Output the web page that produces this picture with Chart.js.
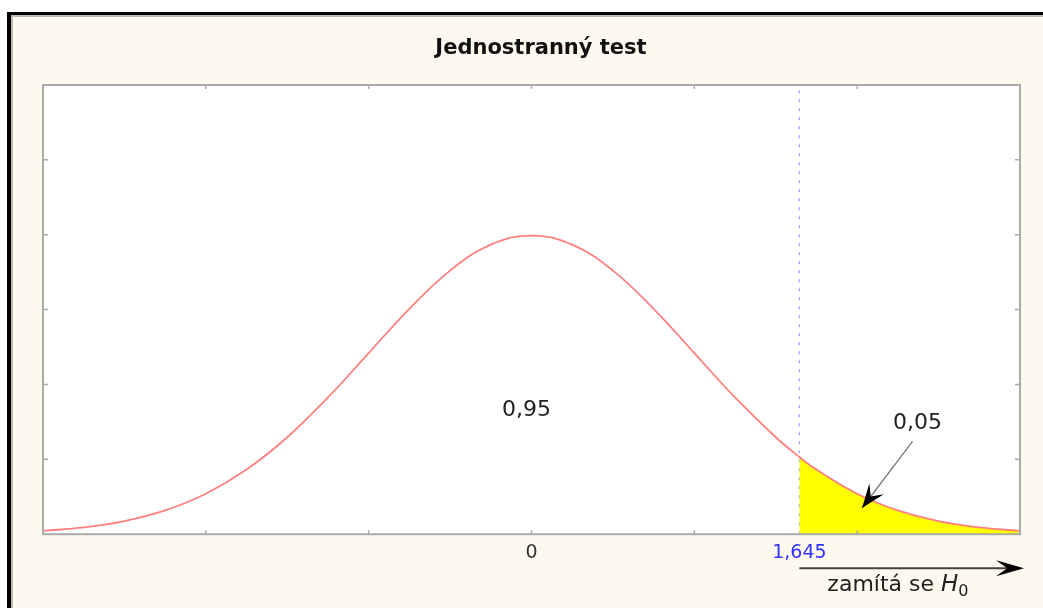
<!DOCTYPE html>
<html>
<head>
<meta charset="utf-8">
<script src="https://cdn.jsdelivr.net/npm/chart.js@4.4.1/dist/chart.umd.min.js"></script>
<style>
  html, body { margin: 0; padding: 0; background: #fff; }
  #frame {
    position: absolute; left: 7px; top: 12px; width: 1040px; height: 600px;
    border-left: 4px solid #000; border-top: 3px solid #000;
    background: #fdf9ee; box-shadow: inset 2px 2px 0 #bdbab0;
  }
  #c { position: absolute; left: 0; top: 0; }
</style>
</head>
<body>
<div id="frame"></div>
<canvas id="c" width="1043" height="608"></canvas>
<script>
// density curve
const xs = [-3, -2.75, -2.5, -2.25, -2, -1.75, -1.5, -1.25, -1, -0.75, -0.5, -0.25, 0,
            0.25, 0.5, 0.75, 1, 1.25, 1.5, 1.645, 1.75, 2, 2.25, 2.5, 2.75, 3];
const ys = [0.0044, 0.0091, 0.0175, 0.0317, 0.054, 0.0863, 0.1295, 0.1826, 0.242, 0.3011, 0.3521, 0.3867, 0.3989,
            0.3867, 0.3521, 0.3011, 0.242, 0.1826, 0.1295, 0.1031, 0.0863, 0.054, 0.0317, 0.0175, 0.0091, 0.0044];

// rejection region (yellow)
const tailX = [1.645, 1.75, 2, 2.25, 2.5, 2.75, 3];
const tailY = [0.1031, 0.0863, 0.054, 0.0317, 0.0175, 0.0091, 0.0044];

const critical = 1.645;
const xTickVals = [0, 1.645];
const xTickLabels = ['0', '1,645'];
const frameTicksX = [-2, -1, 0, 1, 2];
const frameTicksY = [0.1, 0.2, 0.3, 0.4, 0.5];

const titleText = 'Jednostranný test';
const areaLabels = [
  { text: '0,95', x: -0.03, y: 0.165 },
  { text: '0,05', x: 2.37, y: 0.148 }
];
const arrowFrom = { x: 2.34, y: 0.124 };
const arrowTo = { x: 2.03, y: 0.035 };

const FONT = '"DejaVu Sans", Verdana, sans-serif';
const toPts = (a, b) => a.map((v, i) => ({ x: v, y: b[i] }));

function arrowHead(ctx, x1, y1, x2, y2, len, wid) {
  const ang = Math.atan2(y2 - y1, x2 - x1);
  ctx.save();
  ctx.translate(x2, y2);
  ctx.rotate(ang);
  ctx.beginPath();
  ctx.moveTo(0, 0);
  ctx.lineTo(-len, -wid);
  ctx.lineTo(-len * 0.6, 0);
  ctx.lineTo(-len, wid);
  ctx.closePath();
  ctx.fill();
  ctx.restore();
}

const extras = {
  id: 'extras',
  beforeDraw(chart) {
    const { ctx, chartArea: a } = chart;
    ctx.save();
    ctx.fillStyle = '#fff';
    ctx.fillRect(a.left, a.top, a.right - a.left, a.bottom - a.top);
    // title
    ctx.fillStyle = '#111';
    ctx.font = 'bold 21px ' + FONT;
    ctx.textAlign = 'center';
    ctx.textBaseline = 'alphabetic';
    ctx.fillText(titleText, 541, 54);
    ctx.restore();
  },
  afterDraw(chart) {
    const { ctx, chartArea: a, scales: { x, y } } = chart;
    ctx.save();
    // frame + inward ticks
    ctx.strokeStyle = '#aaa';
    ctx.lineWidth = 2;
    ctx.strokeRect(a.left, a.top, a.right - a.left, a.bottom - a.top);
    ctx.lineWidth = 1.5;
    ctx.beginPath();
    frameTicksX.forEach(v => {
      const px = x.getPixelForValue(v);
      ctx.moveTo(px, a.bottom); ctx.lineTo(px, a.bottom - 4);
      ctx.moveTo(px, a.top); ctx.lineTo(px, a.top + 4);
    });
    frameTicksY.forEach(v => {
      const py = y.getPixelForValue(v);
      ctx.moveTo(a.left, py); ctx.lineTo(a.left + 5, py);
      ctx.moveTo(a.right, py); ctx.lineTo(a.right - 5, py);
    });
    ctx.stroke();

    // area labels
    ctx.fillStyle = '#222';
    ctx.font = '22px ' + FONT;
    ctx.textAlign = 'center';
    ctx.textBaseline = 'middle';
    areaLabels.forEach(l => ctx.fillText(l.text, x.getPixelForValue(l.x), y.getPixelForValue(l.y)));

    // arrow pointing at the tail
    const x1 = x.getPixelForValue(arrowFrom.x), y1 = y.getPixelForValue(arrowFrom.y);
    const x2 = x.getPixelForValue(arrowTo.x), y2 = y.getPixelForValue(arrowTo.y);
    ctx.strokeStyle = '#777';
    ctx.lineWidth = 1.3;
    ctx.beginPath(); ctx.moveTo(x1, y1); ctx.lineTo(x2, y2); ctx.stroke();
    ctx.fillStyle = '#000';
    arrowHead(ctx, x1, y1, x2, y2, 24, 9);

    // rejection arrow under the axis
    const cx = x.getPixelForValue(critical);
    const ay = a.bottom + 34;
    ctx.strokeStyle = '#444';
    ctx.lineWidth = 2;
    ctx.beginPath(); ctx.moveTo(cx, ay); ctx.lineTo(a.right, ay); ctx.stroke();
    arrowHead(ctx, cx, ay, a.right + 4, ay, 28, 8);

    ctx.fillStyle = '#222';
    ctx.textAlign = 'left';
    ctx.textBaseline = 'alphabetic';
    ctx.font = '22px ' + FONT;
    let tx = cx + 28;
    const ty = ay + 23;
    ctx.fillText('zamítá se ', tx, ty);
    tx += ctx.measureText('zamítá se ').width;
    ctx.font = 'italic 23px ' + FONT;
    ctx.fillText('H', tx, ty);
    tx += ctx.measureText('H').width;
    ctx.font = '16px ' + FONT;
    ctx.fillText('0', tx, ty + 5);
    ctx.restore();
  }
};

new Chart(document.getElementById('c'), {
  type: 'scatter',
  data: {
    datasets: [
      {
        data: [{ x: critical, y: 0 }, { x: critical, y: 0.6 }],
        showLine: true,
        borderColor: '#a8a8ff',
        borderWidth: 1.5,
        borderDash: [3, 6],
        pointRadius: 0,
        order: 3
      },
      {
        data: toPts(tailX, tailY),
        showLine: true,
        fill: 'origin',
        backgroundColor: '#ffff00',
        borderColor: 'rgba(0,0,0,0)',
        tension: 0.4,
        pointRadius: 0,
        order: 2
      },
      {
        data: toPts(xs, ys),
        showLine: true,
        borderColor: '#ff8080',
        borderWidth: 1.8,
        tension: 0.4,
        pointRadius: 0,
        order: 1
      }
    ]
  },
  options: {
    responsive: false,
    animation: false,
    layout: { padding: { left: 43, right: 23, top: 85, bottom: 37 } },
    plugins: {
      legend: { display: false },
      tooltip: { enabled: false },
      title: { display: false }
    },
    scales: {
      x: {
        type: 'linear',
        min: -3,
        max: 3,
        grid: { display: false, drawTicks: false },
        border: { display: false },
        afterBuildTicks: s => { s.ticks = xTickVals.map(v => ({ value: v })); },
        ticks: {
          padding: 7,
          autoSkip: false,
          maxRotation: 0,
          font: { family: FONT, size: 19 },
          color: c => (c.tick && c.tick.value === critical ? '#3333ff' : '#333'),
          callback: (v, i) => xTickLabels[i]
        }
      },
      y: {
        min: 0,
        max: 0.6,
        display: false
      }
    }
  },
  plugins: [extras]
});
</script>
</body>
</html>
